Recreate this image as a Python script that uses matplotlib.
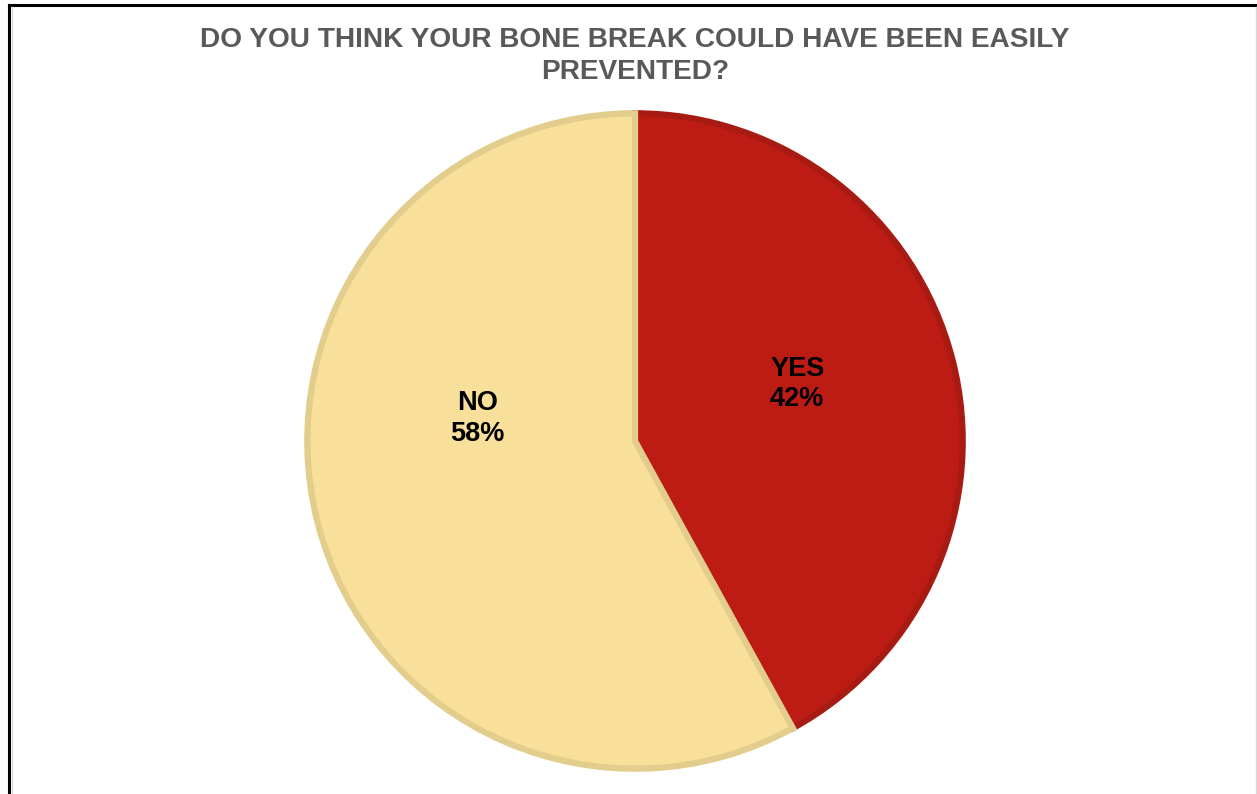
import matplotlib.pyplot as plt
from matplotlib.lines import Line2D

title = "DO YOU THINK YOUR BONE BREAK COULD HAVE BEEN EASILY\nPREVENTED?"
labels = ["YES", "NO"]
values = [42, 58]
colors = ["#BC1C14", "#F9E09A"]
edge_colors = ["#A81B13", "#E2CD8C"]
# label spots inside the pie (data units, radius 1)
label_pos = [(0.49, 0.172), (-0.475, 0.068)]

plt.rcParams['font.family'] = ['Liberation Sans', 'DejaVu Sans']

W, H = 1257, 794
fig = plt.figure(figsize=(W / 100, H / 100), dpi=100)
fig.patch.set_facecolor("white")

cx, cy, r = 635, 441, 331
ax = fig.add_axes([(cx - r) / W, (H - cy - r) / H, 2 * r / W, 2 * r / H])

wedges, _ = ax.pie(values, colors=colors, startangle=90, counterclock=False,
                   radius=0.99, wedgeprops=dict(linewidth=4.5))
for w, ec in zip(wedges, edge_colors):
    w.set_edgecolor(ec)
    w.set_joinstyle("miter")

for lab, v, (x, y) in zip(labels, values, label_pos):
    ax.text(x, y, f"{lab}\n{v}%", ha="center", va="center", fontsize=19.5,
            fontweight="bold", color="black", linespacing=1.24)

ax.set_xlim(-1, 1)
ax.set_ylim(-1, 1)
ax.set_aspect("equal")
ax.axis("off")

fig.text(cx / W, 1 - 56 / H, title, ha="center", va="center", fontsize=20.2,
         fontweight="bold", color="#595959", linespacing=1.28)

# frame edges
fig.add_artist(Line2D([9 / W, 9 / W], [0, 1 - 5 / H], color="black", lw=2.2))
fig.add_artist(Line2D([9 / W, 1], [1 - 5 / H, 1 - 5 / H], color="black", lw=2.2))
fig.add_artist(Line2D([11.5 / W, 11.5 / W], [0, 1 - 7 / H], color="#D9D9D9", lw=1))
fig.add_artist(Line2D([1256 / W, 1256 / W], [0, 1 - 7 / H], color="#D9D9D9", lw=1))

fig.savefig("out.png", dpi=100)
